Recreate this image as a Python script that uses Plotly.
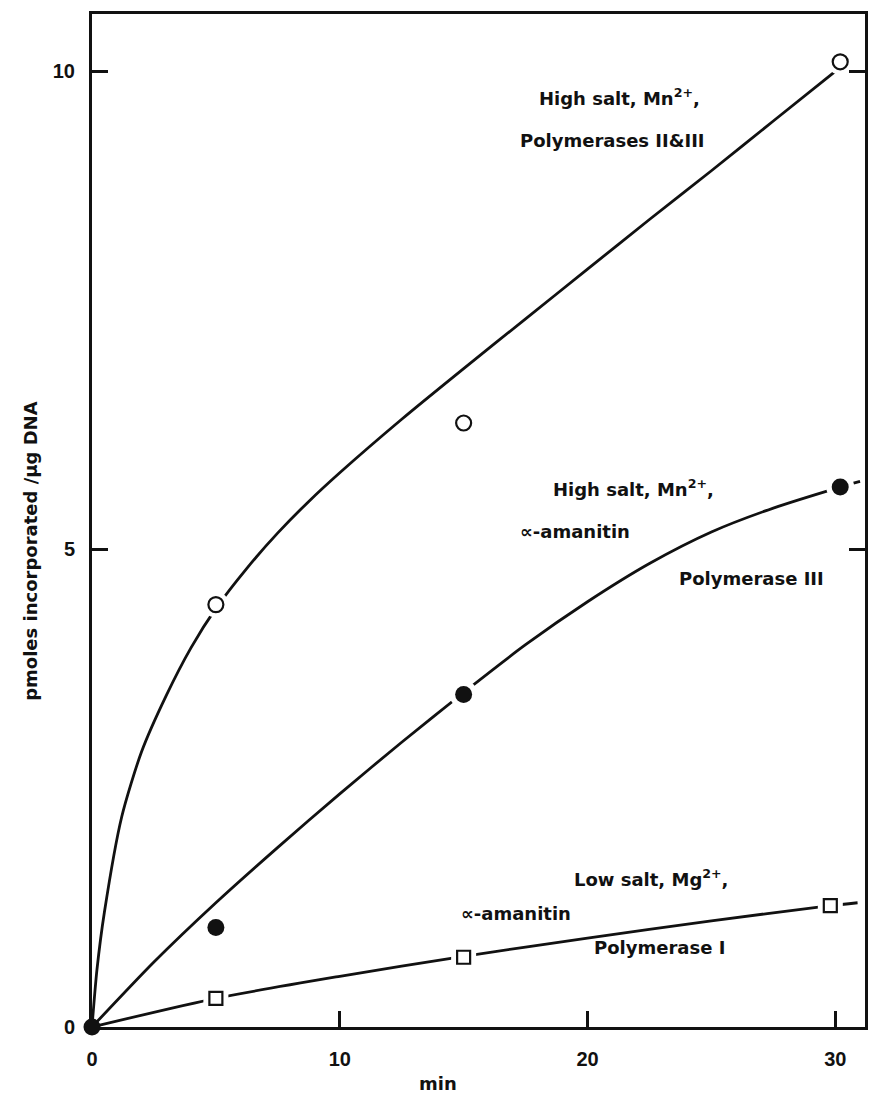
import plotly.graph_objects as go

# Measured points (min, pmoles incorporated / µg DNA)
time_pts = [5, 15, 30.2]
pol_2_3 = [4.42, 6.32, 10.1]          # high salt, Mn2+ (open circles)
pol_3_x = [5, 15, 30.2]
pol_3 = [1.04, 3.48, 5.65]            # high salt, Mn2+, alpha-amanitin (filled circles)
pol_1_x = [5, 15, 29.8]
pol_1 = [0.30, 0.73, 1.27]            # low salt, Mg2+, alpha-amanitin (open squares)

# Hand-drawn smooth curves through each series
curve_2_3_x = [0, 0.2, 0.5, 1.2, 2.0, 3.0, 4.0, 5.0, 6.25, 7.5, 8.75, 10.0, 12.5, 15.0, 17.5, 20.0, 22.5, 25.0, 27.5, 30.0]
curve_2_3_y = [0, 0.6, 1.2, 2.2, 2.88, 3.47, 3.97, 4.38, 4.80, 5.17, 5.50, 5.80, 6.36, 6.89, 7.41, 7.93, 8.45, 8.96, 9.48, 10.0]

curve_3_x = [0, 2.5, 5.0, 7.5, 10.0, 12.5, 15.0, 17.5, 20.0, 22.5, 25.0, 27.5, 30.2, 31.0]
curve_3_y = [0, 0.68, 1.30, 1.88, 2.44, 2.98, 3.50, 4.00, 4.45, 4.85, 5.18, 5.43, 5.65, 5.71]

curve_1_x = [0, 5.0, 10.0, 15.0, 20.0, 25.0, 29.8, 30.9]
curve_1_y = [0, 0.30, 0.53, 0.74, 0.93, 1.11, 1.27, 1.30]

x_ticks = [0, 10, 20, 30]
y_ticks = [0, 5, 10]

INK = "#111111"
LINE_W = 2.8

fig = go.Figure()

# Curves
for cx, cy in [(curve_2_3_x, curve_2_3_y), (curve_3_x, curve_3_y), (curve_1_x, curve_1_y)]:
    fig.add_trace(go.Scatter(x=cx, y=cy, mode="lines",
                             line=dict(color=INK, width=LINE_W, shape="spline", smoothing=0.7),
                             hoverinfo="skip", showlegend=False))

# White halos that open small gaps in the curves around each point
fig.add_trace(go.Scatter(x=time_pts, y=pol_2_3, mode="markers", marker=dict(symbol="circle", size=26, color="white"),
                         hoverinfo="skip", showlegend=False, cliponaxis=False))
fig.add_trace(go.Scatter(x=pol_3_x, y=pol_3, mode="markers", marker=dict(symbol="circle", size=28, color="white"),
                         hoverinfo="skip", showlegend=False, cliponaxis=False))
fig.add_trace(go.Scatter(x=pol_1_x, y=pol_1, mode="markers", marker=dict(symbol="square", size=25, color="white"),
                         hoverinfo="skip", showlegend=False, cliponaxis=False))

# Data markers
fig.add_trace(go.Scatter(x=time_pts, y=pol_2_3, mode="markers",
                         marker=dict(symbol="circle", size=15, color="white", line=dict(color=INK, width=2.2)),
                         showlegend=False, cliponaxis=False))
fig.add_trace(go.Scatter(x=[0] + pol_3_x, y=[0] + pol_3, mode="markers",
                         marker=dict(symbol="circle", size=17, color=INK, line=dict(width=0)),
                         showlegend=False, cliponaxis=False))
fig.add_trace(go.Scatter(x=pol_1_x, y=pol_1, mode="markers",
                         marker=dict(symbol="square", size=13, color="white", line=dict(color=INK, width=2.2)),
                         showlegend=False, cliponaxis=False))

TEXT_FAMILY = "DejaVu Sans, Verdana, sans-serif"
label_font = dict(family=TEXT_FAMILY, size=18, color=INK, weight="bold")
labels = [
    (21.3, 9.73, "High salt, Mn<sup>2+</sup>,", "center"),
    (21.0, 9.28, "Polymerases II&III", "center"),
    (21.85, 5.64, "High salt, Mn<sup>2+</sup>,", "center"),
    (17.2, 5.19, "∝-amanitin", "left"),
    (23.6, 4.69, "Polymerase III", "left"),
    (22.57, 1.56, "Low salt, Mg<sup>2+</sup>,", "center"),
    (14.8, 1.19, "∝-amanitin", "left"),
    (20.2, 0.83, "Polymerase I", "left"),
]
for lx, ly, txt, anchor in labels:
    fig.add_annotation(x=lx, y=ly, text=txt, showarrow=False, xanchor=anchor, yanchor="middle", font=label_font)

# Axis titles
fig.add_annotation(xref="paper", yref="paper", x=-0.079, y=0.47, text="pmoles incorporated /µg DNA",
                   textangle=-90, showarrow=False, xanchor="center", yanchor="middle",
                   font=dict(family=TEXT_FAMILY, size=18, color=INK, weight="bold"))
fig.add_annotation(xref="paper", yref="paper", x=0.448, y=-0.056, text="min", showarrow=False,
                   xanchor="center", yanchor="middle",
                   font=dict(family=TEXT_FAMILY, size=18, color=INK, weight="bold"))

tick_font = dict(family="Liberation Sans, Arial, sans-serif", size=20, color=INK, weight="bold")

fig.update_xaxes(range=[0, 31.2], tickvals=x_ticks, ticktext=[str(v) for v in x_ticks],
                 ticks="inside", ticklen=16, tickwidth=2.5, tickcolor=INK,
                 showline=True, linewidth=3, linecolor=INK, mirror=True,
                 showgrid=False, zeroline=False, tickfont=tick_font, ticklabelstandoff=12)
fig.update_yaxes(range=[0, 10.6], tickvals=y_ticks, ticktext=[str(v) for v in y_ticks],
                 ticks="inside", ticklen=16, tickwidth=2.5, tickcolor=INK,
                 showline=True, linewidth=3, linecolor=INK, mirror="ticks",
                 showgrid=False, zeroline=False, tickfont=tick_font, ticklabelstandoff=10)

fig.update_layout(width=876, height=1095, margin=dict(l=92, r=8, t=14, b=68),
                  plot_bgcolor="white", paper_bgcolor="white", showlegend=False)

fig.write_html("out.html")
